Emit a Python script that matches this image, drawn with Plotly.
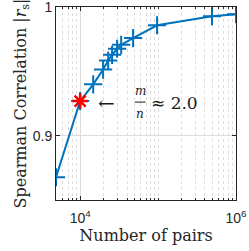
import plotly.graph_objects as go

pairs = [4900, 10000, 14700, 19700, 22900, 25700, 29800, 33600, 47800, 97000, 492000, 1000000]
rs = [0.8677, 0.927, 0.940, 0.9515, 0.9585, 0.963, 0.9677, 0.9708, 0.976, 0.986, 0.993, 0.9946]
highlight_idx = 1
x_tickvals = [1e4, 1e6]
x_ticktext = ["10<sup>4</sup>", "10<sup>6</sup>"]
y_tickvals = [0.9, 1.0]
y_ticktext = ["0.9", "1"]

blue = "#0072BD"
serif = "DejaVu Serif"
sans = "Liberation Sans"

fig = go.Figure()
fig.add_trace(go.Scatter(
    x=pairs, y=rs, mode="lines+markers",
    line=dict(color=blue, width=2),
    marker=dict(symbol="cross-thin-open", size=13, line=dict(color=blue, width=2)),
    showlegend=False))
fig.add_trace(go.Scatter(
    x=[pairs[highlight_idx]], y=[rs[highlight_idx]], mode="markers",
    marker=dict(symbol="asterisk-open", size=13, color="red", line=dict(color="red", width=2.5)),
    showlegend=False))

grid_col = "#dcdcdc"
fig.update_xaxes(
    type="log", range=[3.69, 6.0], automargin=False,
    tickvals=x_tickvals, ticktext=x_ticktext, ticklabeloverflow="allow", ticklabelstandoff=5,
    tickfont=dict(family=sans, size=14, color="#262626"),
    ticks="inside", ticklen=4, tickcolor="#262626",
    showgrid=True, gridcolor=grid_col, gridwidth=1,
    minor=dict(showgrid=True, gridcolor=grid_col, griddash="dot", ticks="inside", ticklen=2,
               tickcolor="#262626", dtick="D1"),
    showline=True, linecolor="#262626", linewidth=1, mirror="ticks",
    zeroline=False,
    title=dict(text="Number of pairs", font=dict(family=serif, size=16, color="#262626"), standoff=4),
)
fig.update_yaxes(
    range=[0.85, 1.0002], automargin=False,
    tickvals=y_tickvals, ticktext=y_ticktext, ticklabeloverflow="allow",
    tickfont=dict(family=sans, size=14, color="#262626"),
    ticks="inside", ticklen=4, tickcolor="#262626",
    showgrid=True, gridcolor=grid_col, gridwidth=1,
    showline=True, linecolor="#262626", linewidth=1, mirror="ticks",
    zeroline=False,
    title=dict(text="Spearman Correlation |<i>r</i><sub>s</sub>|", font=dict(family=serif, size=16, color="#262626"), standoff=2),
)

ann_font = dict(family=serif, color="#1a1a1a")
fig.add_annotation(x=4.34, y=0.9254, xref="x", yref="y", text="←", showarrow=False,
                   font=dict(size=20, **ann_font))
fig.add_annotation(x=4.769, y=0.9352, xref="x", yref="y", text="<i>m</i>", showarrow=False,
                   font=dict(size=12, **ann_font))
fig.add_annotation(x=4.769, y=0.9170, xref="x", yref="y", text="<i>n</i>", showarrow=False,
                   font=dict(size=12, **ann_font))
fig.add_shape(type="line", xref="x", yref="y", x0=10**4.70, x1=10**4.84, y0=0.9262, y1=0.9262,
              line=dict(color="#1a1a1a", width=1))
fig.add_annotation(x=4.88, y=0.9254, xref="x", yref="y", text="≈ 2.0", showarrow=False,
                   xanchor="left", font=dict(size=17, **ann_font))

fig.update_layout(
    width=249, height=251,
    margin=dict(l=56, r=13, t=7, b=51),
    paper_bgcolor="white", plot_bgcolor="white",
)
fig.write_html("out.html", config={"displayModeBar": False},
               post_script="document.body.style.margin='0';document.body.style.overflow='hidden';")
